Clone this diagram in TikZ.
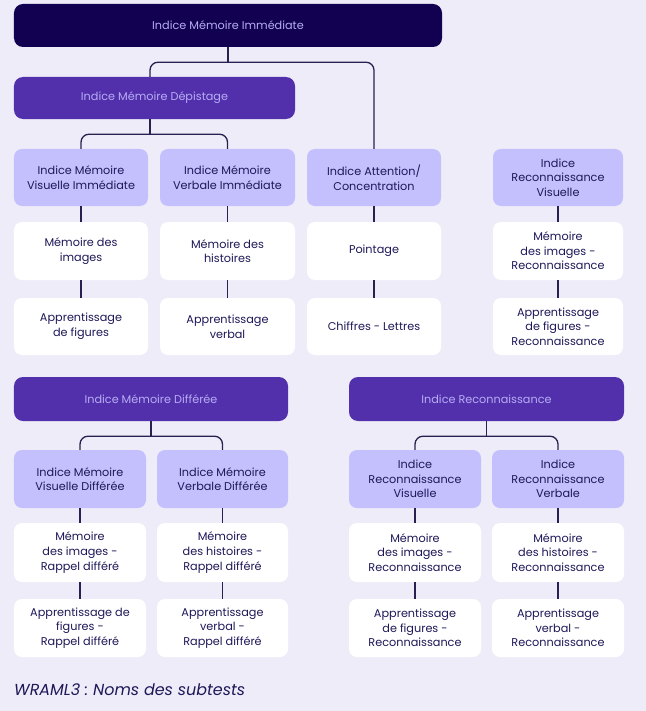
\documentclass[tikz,border=0pt]{standalone}
\usepackage{fontspec}
\setmainfont{Poppins}
\usepackage{tikz}
\usetikzlibrary{positioning}
\definecolor{wrbg}{RGB}{238,236,248}
\definecolor{wrnavy}{RGB}{17,1,80}
\definecolor{wrpurple}{RGB}{82,48,171}
\definecolor{wrlilac}{RGB}{195,192,253}
\definecolor{wrtext}{RGB}{30,24,88}
\definecolor{wrhead}{RGB}{183,172,245}
\definecolor{wrline}{RGB}{40,32,80}
\newcommand{\wrfont}{\fontsize{11.3}{14.7}\selectfont}
\tikzstyle{link} = [draw=wrline, line width=1.3bp, rounded corners=8bp]
\tikzstyle{topbox} = [rectangle, rounded corners=9bp, fill=wrnavy, text=wrhead, minimum height=43bp, inner sep=0pt, font=\wrfont]
\tikzstyle{headbox} = [rectangle, rounded corners=9bp, fill=wrpurple, text=wrhead, minimum height=43bp, inner sep=0pt, font=\wrfont]
\tikzstyle{indexbox} = [rectangle, rounded corners=8bp, fill=wrlilac, text=wrtext, minimum width=134bp, minimum height=57bp, inner sep=0pt, align=center, font=\wrfont]
\tikzstyle{testbox} = [rectangle, rounded corners=8bp, fill=white, text=wrtext, minimum width=134bp, minimum height=58bp, inner sep=0pt, align=center, font=\wrfont]
\begin{document}
\begin{tikzpicture}[x=1bp, y=-1bp]
\fill[wrbg] (0,0) rectangle (646,711);

% Immediate memory
\node[topbox, minimum width=428bp] (top) at (228,25.5) {Indice Mémoire Immédiate};
\node[headbox, minimum width=281bp, minimum height=42bp] (depist) at (154.5,98) {Indice Mémoire Dépistage};

% Screening indices
\node[indexbox] (visimm) at (81,177.5) {Indice Mémoire\\Visuelle Immédiate};
\node[indexbox, minimum width=135bp] (verimm) at (227.5,177.5) {Indice Mémoire\\Verbale Immédiate};
\node[indexbox] (attn) at (374,177.5) {Indice Attention/\\Concentration};
\node[indexbox, minimum width=130bp] (recvisa) at (558,177.5) {Indice\\Reconnaissance\\Visuelle};

% Screening subtests
\node[testbox] (imgmem) at (81,251) {Mémoire des\\images};
\node[testbox, minimum width=135bp] (histmem) at (227.5,251) {Mémoire des\\histoires};
\node[testbox] (point) at (374,251) {Pointage};
\node[testbox, minimum width=130bp] (imgrec) at (558,251) {Mémoire\\des images -\\Reconnaissance};
\node[testbox, minimum height=57bp] (figapp) at (81,326.5) {Apprentissage\\de figures};
\node[testbox, minimum width=135bp, minimum height=57bp] (verbapp) at (227.5,326.5) {Apprentissage\\verbal};
\node[testbox, minimum height=57bp] (digits) at (374,326.5) {Chiffres - Lettres};
\node[testbox, minimum width=130bp, minimum height=57bp] (figrec) at (558,326.5) {Apprentissage\\de figures -\\Reconnaissance};

% Delayed memory
\node[headbox, minimum width=274bp, minimum height=44bp] (diff) at (151,399) {Indice Mémoire Différée};
\node[indexbox, minimum width=132bp, minimum height=58bp] (visdiff) at (80,479) {Indice Mémoire\\Visuelle Différée};
\node[indexbox, minimum width=131bp, minimum height=58bp] (verdiff) at (222.5,479) {Indice Mémoire\\Verbale Différée};
\node[testbox, minimum width=132bp, minimum height=59bp] (imgdiff) at (80,552.5) {Mémoire\\des images -\\Rappel différé};
\node[testbox, minimum width=131bp, minimum height=59bp] (histdiff) at (222.5,552.5) {Mémoire\\des histoires -\\Rappel différé};
\node[testbox, minimum width=132bp] (figdiff) at (80,628) {Apprentissage de\\figures -\\Rappel différé};
\node[testbox, minimum width=131bp] (verbdiff) at (222.5,628) {Apprentissage\\verbal -\\Rappel différé};

% Recognition
\node[headbox, minimum width=275bp, minimum height=44bp] (rec) at (486.5,399) {Indice Reconnaissance};
\node[indexbox, minimum width=132bp, minimum height=58bp] (recvis) at (415,479) {Indice\\Reconnaissance\\Visuelle};
\node[indexbox, minimum width=132bp, minimum height=58bp] (recver) at (558,479) {Indice\\Reconnaissance\\Verbale};
\node[testbox, minimum width=132bp, minimum height=59bp] (imgrecb) at (415,552.5) {Mémoire\\des images -\\Reconnaissance};
\node[testbox, minimum width=132bp, minimum height=59bp] (histrec) at (558,552.5) {Mémoire\\des histoires -\\Reconnaissance};
\node[testbox, minimum width=132bp] (figrecb) at (415,628) {Apprentissage\\de figures -\\Reconnaissance};
\node[testbox, minimum width=132bp] (verbrec) at (558,628) {Apprentissage\\verbal -\\Reconnaissance};

% Caption
\node[anchor=base west, inner sep=0pt, text=wrtext, font=\fontsize{16}{18}\selectfont\itshape] (caption) at (14,695) {WRAML3 :\hspace{-1.5bp} Noms des subtests};

% Links
\coordinate[below=15bp of top.south] (topbus);
\coordinate[below=15bp of depist.south, xshift=-4.5bp] (depbus);
\coordinate[below=15bp of diff.south] (diffbus);
\coordinate[below=15bp of rec.south] (recbus);
\draw[link] (top.south) -- (topbus);
\draw[link] ([xshift=-4.5bp]depist.north) |- (topbus) -| (attn.north);
\draw[link] ([xshift=-4.5bp]depist.south) -- (depbus);
\draw[link] (visimm.north) |- (depbus) -| (verimm.north);
\draw[link] (diff.south) -- (diffbus);
\draw[link] (visdiff.north) |- (diffbus) -| (verdiff.north);
\draw[link] (rec.south) -- (recbus);
\draw[link] (recvis.north) |- (recbus) -| (recver.north);

\draw[link] (visimm) -- (imgmem);
\draw[link] (imgmem) -- (figapp);
\draw[link] (verimm) -- (histmem);
\draw[link] (histmem) -- (verbapp);
\draw[link] (attn) -- (point);
\draw[link] (point) -- (digits);
\draw[link] (recvisa) -- (imgrec);
\draw[link] (imgrec) -- (figrec);
\draw[link] (visdiff) -- (imgdiff);
\draw[link] (imgdiff) -- (figdiff);
\draw[link] (verdiff) -- (histdiff);
\draw[link] (histdiff) -- (verbdiff);
\draw[link] (recvis) -- (imgrecb);
\draw[link] (imgrecb) -- (figrecb);
\draw[link] (recver) -- (histrec);
\draw[link] (histrec) -- (verbrec);
\end{tikzpicture}
\end{document}
